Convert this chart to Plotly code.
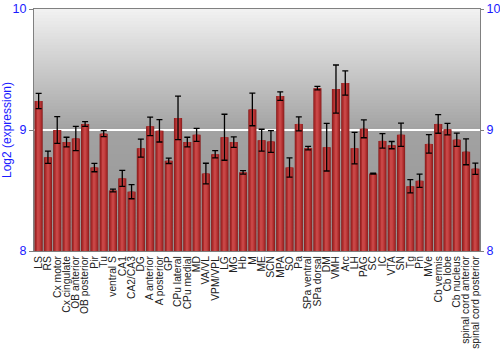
import plotly.graph_objects as go

categories = ["LS", "RS", "Cx motor", "Cx cingulate", "OB anterior", "OB posterior", "Pir", "Tu",
              "ventral S", "CA1", "CA2/CA3", "DG", "A anterior", "A posterior", "GP", "CPu lateral",
              "CPu medial", "MD", "VA/VL", "VPM/VPL", "LG", "MG", "Hb", "M", "ME", "SCN", "MPA", "SO",
              "Pa", "SPa ventral", "SPa dorsal", "DM", "VMH", "Arc", "LH", "PAG", "SC", "IC", "VTA", "SN",
              "Tg", "Pn", "MVe", "Cb vermis", "Cb lobe", "Cb nucleus", "spinal cord anterior",
              "spinal cord posterior"]

values = [9.24, 8.775, 9.0, 8.90, 8.93, 9.05, 8.69, 8.97,
          8.50, 8.60, 8.49, 8.85, 9.03, 8.993, 8.745, 9.10,
          8.90, 8.96, 8.64, 8.80, 8.94, 8.90, 8.65, 9.17, 8.916, 8.905, 9.28, 8.69,
          9.05, 8.85, 9.346, 8.858, 9.338, 9.388, 8.85, 9.01, 8.64, 8.91, 8.875, 8.96,
          8.535, 8.58, 8.885, 9.05, 9.007, 8.92, 8.82, 8.68]

errors = [0.063, 0.05, 0.11, 0.04, 0.10, 0.02, 0.035, 0.025,
          0.012, 0.066, 0.058, 0.075, 0.077, 0.092, 0.022, 0.18,
          0.04, 0.054, 0.085, 0.03, 0.19, 0.043, 0.015, 0.135, 0.09, 0.09, 0.035, 0.079,
          0.058, 0.014, 0.015, 0.197, 0.199, 0.10, 0.13, 0.074, 0.004, 0.06, 0.03, 0.096,
          0.055, 0.055, 0.076, 0.077, 0.047, 0.055, 0.107, 0.047]

y_ticks = [8, 9, 10]
y_range = [8, 10]

FONT = "Liberation Sans, Arial, sans-serif"
BLUE = "#1a1aff"

fig = go.Figure()

# cylinder-like shading via overlaid bars of decreasing width
shades = [(0.88, "#8a1f1f"), (0.7, "#a82a2a"), (0.45, "#bb3838"), (0.2, "#c84646")]
for i, (w, c) in enumerate(shades):
    fig.add_trace(go.Bar(
        x=categories, y=[v - y_range[0] for v in values], base=y_range[0],
        width=w, marker=dict(color=c, line=dict(width=0)),
        showlegend=False, hoverinfo="skip",
    ))

# error bars
fig.add_trace(go.Scatter(
    x=categories, y=values, mode="markers",
    marker=dict(size=1, opacity=0),
    error_y=dict(type="data", array=errors, color="#000000", thickness=1.3, width=3),
    showlegend=False,
))

# y2 axis mirror trace (invisible)
fig.add_trace(go.Scatter(x=categories, y=values, yaxis="y2", mode="markers",
                         marker=dict(size=1, opacity=0), showlegend=False, hoverinfo="skip"))

# gradient background
shapes = []
n = 80
def lerp(a, b, t):
    return int(round(a + (b - a) * t))
for k in range(n):
    t0 = k / n
    t1 = (k + 1) / n
    tm = (t0 + t1) / 2  # 0 at bottom, 1 at top
    if tm >= 0.5:
        s = (1 - tm) / 0.5
        g = lerp(242, 162, s)
    else:
        s = (0.5 - tm) / 0.5
        g = lerp(162, 150, s)
    col = f"rgb({g},{g},{g})"
    shapes.append(dict(type="rect", xref="paper", yref="paper", x0=0, x1=1, y0=t0, y1=t1 + 0.002,
                       fillcolor=col, line=dict(width=0), layer="below"))

fig.update_layout(
    width=500, height=350,
    margin=dict(l=34, r=20, t=9, b=99),
    paper_bgcolor="white", plot_bgcolor="#c0c0c0",
    barmode="overlay", bargap=0.1,
    font=dict(family=FONT, size=11, color="#222222"),
    shapes=shapes,
    xaxis=dict(tickangle=-90, tickmode="array", tickvals=categories, ticktext=categories,
               tickfont=dict(size=10.3, color="#222222", family=FONT), automargin=False,
               showline=True, linecolor="#808080", linewidth=1, mirror=True,
               ticks="", showgrid=False, range=[-0.5, len(categories) - 0.5]),
    yaxis=dict(range=y_range, tickvals=y_ticks, tickfont=dict(size=12.5, color=BLUE, family=FONT),
               title=dict(text="Log2 (expression)", font=dict(size=12, color=BLUE, family=FONT), standoff=2),
               automargin=False,
               showline=True, linecolor="#808080", linewidth=1,
               ticks="outside", ticklen=4, tickcolor="#808080",
               showgrid=True, gridcolor="#ffffff", gridwidth=2, zeroline=False),
    yaxis2=dict(range=y_range, tickvals=y_ticks, overlaying="y", side="right",
                tickfont=dict(size=12.5, color=BLUE, family=FONT), automargin=False,
                showline=True, linecolor="#808080", linewidth=1,
                ticks="outside", ticklen=3, tickcolor="#808080",
                showgrid=False, zeroline=False),
)

fig.write_html("out.html")
